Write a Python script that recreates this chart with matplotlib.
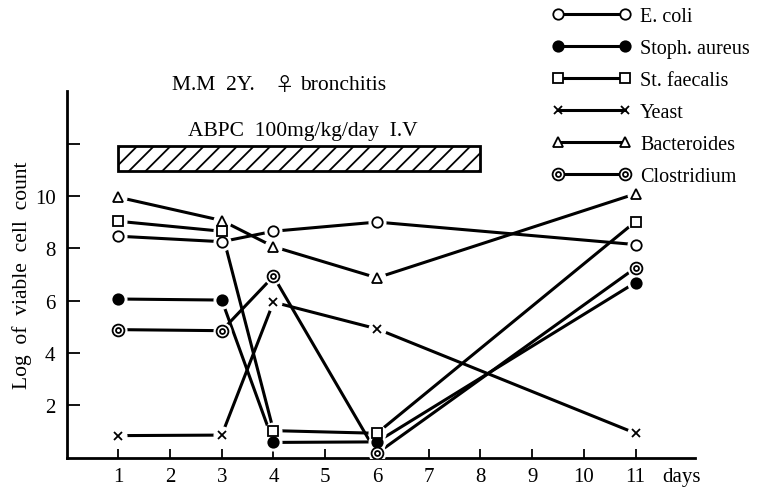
import matplotlib
matplotlib.use("Agg")
import matplotlib.pyplot as plt
from matplotlib.lines import Line2D
from matplotlib.patches import Rectangle
from matplotlib.path import Path

plt.rcParams['font.family'] = ['Liberation Serif', 'DejaVu Serif']
plt.rcParams['hatch.linewidth'] = 1.3

days = [1, 3, 4, 6, 11]
ecoli = [8.46, 8.25, 8.65, 9.0, 8.14]
staph = [6.06, 6.02, 0.58, 0.60, 6.69]
faecalis = [9.03, 8.65, 1.03, 0.93, 9.02]
yeast = [0.84, 0.86, 5.94, 4.92, 0.93]
bacteroides = [9.95, 9.06, 8.06, 6.87, 10.08]
clostridium = [4.89, 4.85, 6.93, 0.16, 7.25]
labels = ["E. coli", "Stoph. aureus", "St. faecalis", "Yeast", "Bacteroides", "Clostridium"]
xticks = list(range(1, 12))
yticks = [2, 4, 6, 8, 10, 12]
ytick_labels = ["2", "4", "6", "8", "10", ""]

double_circle = Path.make_compound_path(Path.circle((0, 0), 1.0), Path.circle((0, 0), 0.42))

fig = plt.figure(figsize=(7.6, 4.89), dpi=100)
ax = fig.add_axes([66.6/760, 1-458.6/489, (695-66.6)/760, (458.6-91.7)/489])
ax.set_xlim(0, 12.15)
ax.set_ylim(0, 14.02)

series = [ecoli, staph, faecalis, yeast, bacteroides, clostridium]
styles = [
    dict(marker='o', ms=7.5, mfc='white', mec='black', mew=1.3),
    dict(marker='o', ms=7.5, mfc='black', mec='black', mew=1.3),
    dict(marker='s', ms=7.0, mfc='white', mec='black', mew=1.3),
    dict(marker='x', ms=6.0, mfc='none', mec='black', mew=1.3),
    dict(marker='^', ms=7.0, mfc='white', mec='black', mew=1.3),
    dict(marker=double_circle, ms=8.5, mfc='white', mec='black', mew=1.3),
]
lw = 2.2
handles = []
for vals, st, lab in zip(series, styles, labels):
    ax.plot(days, vals, color='black', lw=lw, zorder=2, solid_capstyle='butt')
    # white halo to create small gap around markers
    ax.plot(days, vals, ls='none', marker='o', ms=12, mfc='white', mec='white', zorder=3)
    ax.plot(days, vals, ls='none', zorder=4, **st)
    handles.append(Line2D([], [], color='black', lw=lw, **st))

# treatment bar
ax.add_patch(Rectangle((1, 10.95), 7, 0.97, facecolor='white', edgecolor='black',
                       lw=2.0, hatch='//', zorder=2))
ax.text(4.57, 12.5, "ABPC  100mg/kg/day  I.V", ha='center', va='center', fontsize=15.5)

# patient title (three pieces so the female sign uses a full-width glyph)
def px2x(px):
    return (px - 66.6) / 51.7
ty = 14.25
ax.text(px2x(172), ty, "M.M  2Y.", ha='left', va='center', fontsize=15.5, clip_on=False)
ax.text(px2x(284), ty, "\u2640", ha='center', va='center', fontsize=14,
        family=['Noto Sans CJK JP', 'DejaVu Sans'], clip_on=False)
ax.text(px2x(300), ty, "bronchitis", ha='left', va='center', fontsize=15.5, clip_on=False)

ax.spines['top'].set_visible(False)
ax.spines['right'].set_visible(False)
ax.spines['left'].set_linewidth(2.0)
ax.spines['bottom'].set_linewidth(2.0)
ax.set_xticks(xticks)
ax.set_xticklabels([str(t) for t in xticks], fontsize=15)
ax.set_yticks(yticks)
ax.set_yticklabels(ytick_labels, fontsize=15)
ax.tick_params(axis='x', direction='in', length=6.5, width=1.3, pad=7)
ax.tick_params(axis='y', direction='in', length=9.5, width=1.3, pad=8)
ax.set_ylabel("Log  of  viable  cell  count", fontsize=15.5, labelpad=2)
ax.text(11.52, -0.72, "days", ha='left', va='center', fontsize=15, clip_on=False)

leg = fig.legend(handles, labels, loc='upper left', bbox_to_anchor=(552/760, 1 - 8/489),
                 frameon=False, numpoints=2, handlelength=3.93, handletextpad=0.45,
                 labelspacing=0.64, fontsize=14.5, borderpad=0, borderaxespad=0)

fig.savefig("out.png", dpi=100)
